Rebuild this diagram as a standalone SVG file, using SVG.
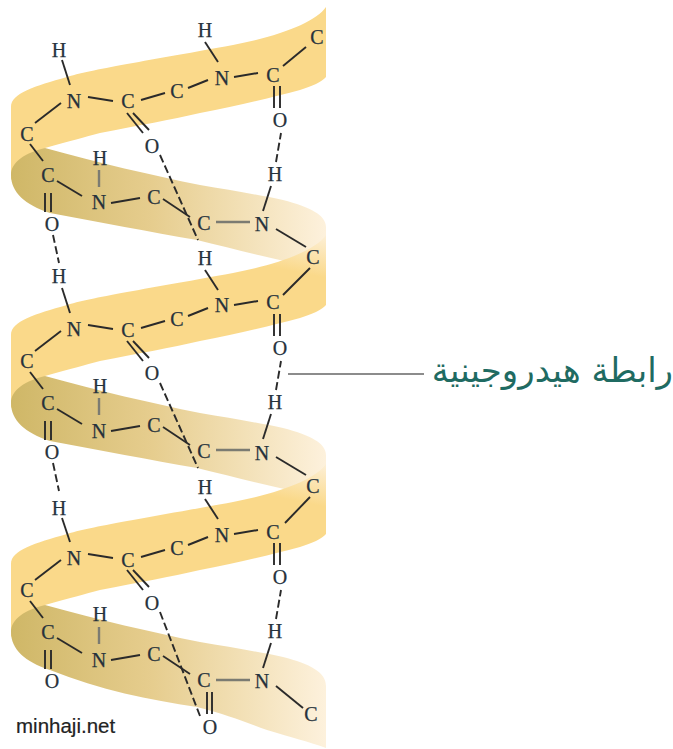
<svg xmlns="http://www.w3.org/2000/svg" width="673" height="749" viewBox="0 0 673 749">
<style>
.f{fill:#fad98a}
.t{font-family:"Liberation Serif","Times New Roman",serif;font-size:20px;fill:#26323c;stroke:#26323c;stroke-width:.25;text-anchor:middle;dominant-baseline:central}
#c line{stroke:#2a2a2a;stroke-width:1.9;stroke-linecap:butt}
#c line.g{stroke:#7b7b72;stroke-width:2.4}
#c line.d{stroke-dasharray:8 3.5}
</style>
<defs>
<linearGradient id="b" gradientUnits="userSpaceOnUse" x1="11" y1="0" x2="325" y2="0">
<stop offset="0" stop-color="#cfb767"/><stop offset=".45" stop-color="#e6cd8e"/><stop offset=".75" stop-color="#f3e1b8"/><stop offset="1" stop-color="#fdf1dc"/>
</linearGradient>
<linearGradient id="f2" gradientUnits="userSpaceOnUse" x1="325" y1="232" x2="316" y2="276">
<stop offset="0" stop-color="#fdf1dc"/><stop offset="1" stop-color="#fad98a"/>
</linearGradient>
<linearGradient id="f3" gradientUnits="userSpaceOnUse" x1="325" y1="461" x2="316" y2="505">
<stop offset="0" stop-color="#fdf1dc"/><stop offset="1" stop-color="#fad98a"/>
</linearGradient>
</defs>
<rect width="673" height="749" fill="#fff"/>
<g id="ribbon">
<path class="f" d="M326 7C316 22 280 36 233 45C190 53 165 57 133 63C100 69 84 72 67 77C35 86 11 93 11 107V180L45 148C70 141 85 137 100 133C140 125 170 120 200 113C240 105 270 98 300 90C312 86 322 82 326 77Z"/>
<path fill="url(#b)" d="M11 175C11 162 25 153 45 148C100 163 150 175 200 185C230 190 260 195 283 200C310 207 326 215 326 227V245L326 276L293 263C260 256 230 248 197 240C150 232 100 222 50 213C25 205 11 192 11 175Z"/>
<path fill="url(#f2)" d="M326 235C316 250 280 264 233 273C190 281 165 285 133 291C100 297 84 300 67 305C35 314 11 321 11 335V408L45 376C70 369 85 365 100 361C140 353 170 348 200 341C240 333 270 326 300 318C312 314 322 310 326 305Z"/>
<path fill="url(#b)" d="M11 403C11 390 25 381 45 376C100 391 150 403 200 413C230 418 260 423 283 428C310 435 326 443 326 455V473L326 504L293 491C260 484 230 476 197 468C150 460 100 450 50 441C25 433 11 420 11 403Z"/>
<path fill="url(#f3)" d="M326 464C316 479 280 493 233 502C190 510 165 514 133 520C100 526 84 529 67 534C35 543 11 550 11 564V637L45 605C70 598 85 594 100 590C140 582 170 577 200 570C240 562 270 555 300 547C312 543 322 539 326 534Z"/>
<path fill="url(#b)" d="M11 632C11 619 25 610 45 605C100 620 150 632 200 642C230 647 260 652 283 657C310 664 326 672 326 686V748C310 742 290 737 267 730C245 722 225 714 197 707C150 700 100 690 50 670C25 662 11 649 11 632Z"/>
</g>
<g id="c">
<line x1="62" y1="60" x2="70" y2="85"/><line x1="61" y1="103" x2="35" y2="123"/><line x1="88" y1="97" x2="113" y2="101"/><line x1="141" y1="100" x2="165" y2="93"/><line x1="188" y1="88" x2="208" y2="80"/><line x1="234" y1="77" x2="258" y2="73"/><line x1="218" y1="62" x2="205" y2="42"/><line x1="283" y1="66" x2="306" y2="47"/><line x1="274" y1="86" x2="274" y2="108"/><line x1="280" y1="86" x2="280" y2="108"/><line x1="127" y1="113" x2="143" y2="133"/><line x1="133" y1="113" x2="149" y2="130"/><line x1="30" y1="144" x2="43" y2="161"/><line x1="45" y1="193" x2="45" y2="212"/><line x1="51" y1="193" x2="51" y2="212"/><line x1="57" y1="181" x2="82" y2="196"/><line class="g" x1="99" y1="170" x2="99" y2="187"/><line x1="111" y1="203" x2="140" y2="198"/><line x1="163" y1="199" x2="190" y2="217"/><line class="g" x1="216" y1="222" x2="250" y2="222"/><line x1="276" y1="229" x2="306" y2="247"/><line x1="263" y1="211" x2="271" y2="186"/><line class="d" x1="276" y1="162" x2="281" y2="133"/><line class="d" x1="160" y1="155" x2="198" y2="240"/><line class="d" x1="53" y1="235" x2="59" y2="263"/>
<line x1="62" y1="288" x2="70" y2="313"/><line x1="61" y1="331" x2="35" y2="351"/><line x1="88" y1="325" x2="113" y2="329"/><line x1="141" y1="328" x2="165" y2="321"/><line x1="188" y1="316" x2="208" y2="308"/><line x1="234" y1="305" x2="258" y2="301"/><line x1="218" y1="290" x2="205" y2="270"/><line x1="283" y1="295" x2="310" y2="268"/><line x1="274" y1="314" x2="274" y2="336"/><line x1="280" y1="314" x2="280" y2="336"/><line x1="127" y1="341" x2="143" y2="361"/><line x1="133" y1="341" x2="149" y2="358"/><line x1="30" y1="372" x2="43" y2="389"/><line x1="45" y1="421" x2="45" y2="440"/><line x1="51" y1="421" x2="51" y2="440"/><line x1="57" y1="409" x2="82" y2="424"/><line class="g" x1="99" y1="398" x2="99" y2="415"/><line x1="111" y1="431" x2="140" y2="426"/><line x1="163" y1="427" x2="190" y2="445"/><line class="g" x1="216" y1="450" x2="250" y2="450"/><line x1="276" y1="457" x2="306" y2="475"/><line x1="263" y1="439" x2="271" y2="414"/><line class="d" x1="276" y1="390" x2="281" y2="361"/><line class="d" x1="160" y1="383" x2="198" y2="468"/><line class="d" x1="53" y1="463" x2="59" y2="491"/>
<line x1="62" y1="518" x2="70" y2="542"/><line x1="61" y1="560" x2="35" y2="580"/><line x1="88" y1="554" x2="113" y2="558"/><line x1="141" y1="557" x2="165" y2="550"/><line x1="188" y1="545" x2="208" y2="537"/><line x1="234" y1="534" x2="258" y2="530"/><line x1="218" y1="519" x2="205" y2="499"/><line x1="285" y1="523" x2="310" y2="497"/><line x1="274" y1="543" x2="274" y2="565"/><line x1="280" y1="543" x2="280" y2="565"/><line x1="127" y1="570" x2="143" y2="590"/><line x1="133" y1="570" x2="149" y2="587"/><line x1="30" y1="601" x2="43" y2="618"/><line x1="45" y1="650" x2="45" y2="669"/><line x1="51" y1="650" x2="51" y2="669"/><line x1="57" y1="638" x2="82" y2="653"/><line class="g" x1="99" y1="627" x2="99" y2="644"/><line x1="111" y1="660" x2="140" y2="655"/><line x1="163" y1="656" x2="190" y2="674"/><line class="g" x1="216" y1="680" x2="250" y2="680"/><line x1="276" y1="686" x2="303" y2="708"/><line x1="263" y1="668" x2="271" y2="643"/><line class="d" x1="276" y1="619" x2="281" y2="590"/><line class="d" x1="160" y1="612" x2="200" y2="716"/><line x1="207" y1="692" x2="207" y2="714"/><line x1="212" y1="692" x2="212" y2="714"/>
<line id="leader" x1="288" y1="374" x2="424" y2="374" style="stroke:#666;stroke-width:1.7"/>
</g>
<g id="h1"><text class="t" x="59" y="50">H</text></g><g id="n1"><text class="t" x="74" y="101">N</text></g><g id="c1"><text class="t" x="128" y="101">C</text></g><g id="c2"><text class="t" x="177" y="91">C</text></g><g id="n2"><text class="t" x="222" y="78">N</text></g><g id="h2"><text class="t" x="205" y="30">H</text></g><g id="c3"><text class="t" x="273" y="75">C</text></g><g id="c4"><text class="t" x="317" y="37">C</text></g><g id="o1"><text class="t" x="280" y="120">O</text></g><g id="o2"><text class="t" x="152" y="146">O</text></g><g id="c5"><text class="t" x="27" y="134">C</text></g><g id="c6"><text class="t" x="48" y="175">C</text></g><g id="h3"><text class="t" x="100" y="158">H</text></g><g id="n3"><text class="t" x="99" y="202">N</text></g><g id="c7"><text class="t" x="154" y="197">C</text></g><g id="c8"><text class="t" x="204" y="223">C</text></g><g id="n4"><text class="t" x="262" y="224">N</text></g><g id="h4"><text class="t" x="275" y="174">H</text></g><g id="c9"><text class="t" x="313" y="257">C</text></g><g id="o3"><text class="t" x="52" y="224">O</text></g>
<g id="h5"><text class="t" x="59" y="276">H</text></g><g id="n5"><text class="t" x="74" y="329">N</text></g><g id="c10"><text class="t" x="128" y="330">C</text></g><g id="c11"><text class="t" x="177" y="319">C</text></g><g id="n6"><text class="t" x="222" y="305">N</text></g><g id="h6"><text class="t" x="205" y="258">H</text></g><g id="c12"><text class="t" x="273" y="302">C</text></g><g id="o4"><text class="t" x="280" y="348">O</text></g><g id="o5"><text class="t" x="152" y="373">O</text></g><g id="c13"><text class="t" x="27" y="361">C</text></g><g id="c14"><text class="t" x="48" y="403">C</text></g><g id="h7"><text class="t" x="100" y="386">H</text></g><g id="n7"><text class="t" x="99" y="431">N</text></g><g id="c15"><text class="t" x="154" y="425">C</text></g><g id="c16"><text class="t" x="204" y="451">C</text></g><g id="n8"><text class="t" x="262" y="453">N</text></g><g id="h8"><text class="t" x="275" y="402">H</text></g><g id="c17"><text class="t" x="313" y="486">C</text></g><g id="o6"><text class="t" x="52" y="452">O</text></g>
<g id="h9"><text class="t" x="59" y="508">H</text></g><g id="n9"><text class="t" x="74" y="558">N</text></g><g id="c18"><text class="t" x="128" y="560">C</text></g><g id="c19"><text class="t" x="177" y="548">C</text></g><g id="n10"><text class="t" x="222" y="535">N</text></g><g id="h10"><text class="t" x="205" y="487">H</text></g><g id="c20"><text class="t" x="273" y="532">C</text></g><g id="o7"><text class="t" x="280" y="577">O</text></g><g id="o8"><text class="t" x="152" y="603">O</text></g><g id="c21"><text class="t" x="27" y="590">C</text></g><g id="c22"><text class="t" x="48" y="632">C</text></g><g id="h11"><text class="t" x="100" y="614">H</text></g><g id="n11"><text class="t" x="99" y="660">N</text></g><g id="c23"><text class="t" x="154" y="654">C</text></g><g id="c24"><text class="t" x="204" y="680">C</text></g><g id="n12"><text class="t" x="262" y="681">N</text></g><g id="h12"><text class="t" x="275" y="631">H</text></g><g id="c25"><text class="t" x="311" y="714">C</text></g><g id="o9"><text class="t" x="52" y="681">O</text></g><g id="o10"><text class="t" x="210" y="727">O</text></g>
<g id="label"><text x="673" y="382" direction="rtl" text-anchor="start" font-family="'DejaVu Sans',sans-serif" font-size="34" fill="#1f6b62">رابطة هيدروجينية</text></g>
<g id="credit"><text x="16" y="733" font-family="'Liberation Sans',Arial,sans-serif" font-size="20.5" fill="#222" stroke="#222" stroke-width=".2">minhaji.net</text></g>
</svg>
